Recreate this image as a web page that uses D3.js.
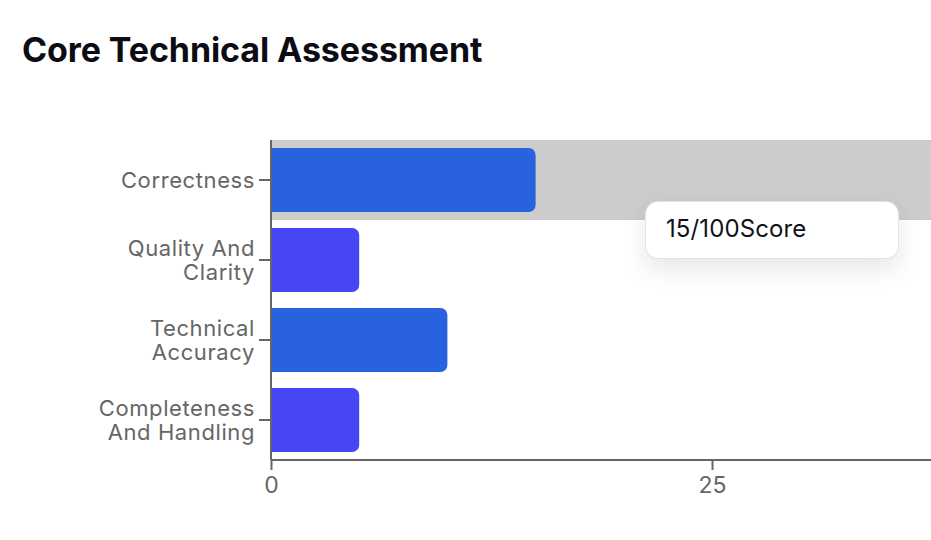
<!DOCTYPE html>
<html><head><meta charset="utf-8">
<script src="https://cdn.jsdelivr.net/npm/d3@7"></script>
<style>
html,body{margin:0;padding:0;background:#fff;overflow:hidden;width:931px;height:540px;}
#tip{position:absolute;left:645px;top:201px;width:254px;height:58px;background:#fff;border:1.5px solid #e3e3e6;border-radius:13px;box-shadow:0 10px 24px rgba(0,0,0,0.10);font-family:Inter,"Noto Sans",sans-serif;font-size:24px;line-height:29px;color:#111218;box-sizing:border-box;padding:12px 0 0 20px;letter-spacing:0.1px;}
</style></head>
<body>
<svg id="c" width="931" height="540" style="position:absolute;left:0;top:0"></svg>
<div id="tip"></div>
<script>
const categories = ["Correctness","Quality And Clarity","Technical Accuracy","Completeness And Handling"];
const labelLines = [["Correctness"],["Quality And","Clarity"],["Technical","Accuracy"],["Completeness","And Handling"]];
const scores = [15,5,10,5];
const maxScore = 100;
const xTicks = [0,25,50,75,100];
const barColors = ["#2962df","#4845f5","#2962df","#4845f5"];
const title = "Core Technical Assessment";
const highlighted = 0;

const W = 931;
const svg = d3.select("#c");
const mLeft = 271, mTop = 140, mBottom = 460;
const x = d3.scaleLinear().domain([0,maxScore]).range([mLeft, mLeft + 1764]);
const y = d3.scaleBand().domain(categories).range([mTop,mBottom]).paddingInner(0.2).paddingOuter(0.1);

svg.append("text").attr("x",22).attr("y",62).text(title)
  .attr("font-family","Inter, 'Noto Sans', sans-serif").attr("font-weight",700)
  .attr("font-size",34).attr("fill","#0b0c14").attr("letter-spacing","-0.1");

// highlight band
const step = y.step();
svg.append("rect").attr("x",mLeft).attr("width",x(maxScore)-mLeft)
  .attr("y", y(categories[highlighted]) - step*0.1).attr("height", step)
  .attr("fill","#cccccc");

function barPath(x0,y0,w,h,r){
  r=Math.min(r,w,h/2);
  return `M${x0},${y0}H${x0+w-r}A${r},${r} 0 0 1 ${x0+w},${y0+r}V${y0+h-r}A${r},${r} 0 0 1 ${x0+w-r},${y0+h}H${x0}Z`;
}
svg.selectAll("path.bar").data(categories).enter().append("path").attr("class","bar")
  .attr("d",(d,i)=>barPath(x(0), y(d), x(scores[i])-x(0), y.bandwidth(), 7))
  .attr("fill",(d,i)=>barColors[i]);

// y axis
const yAxis = svg.append("g").attr("transform",`translate(${mLeft},0)`)
  .call(d3.axisLeft(y).tickSize(12).tickSizeOuter(0).tickFormat(""));
yAxis.select(".domain").attr("stroke","#666").attr("stroke-width",2).attr("d",`M0,${mTop}V${mBottom}`);
yAxis.selectAll(".tick line").attr("stroke","#666").attr("stroke-width",2);
yAxis.selectAll(".tick").each(function(d,i){
  const lines = labelLines[i];
  const t = d3.select(this).append("text").attr("x",-16).attr("text-anchor","end")
    .attr("font-family","Inter, 'Noto Sans', sans-serif").attr("font-size",22)
    .attr("letter-spacing","0.6").attr("fill","#666");
  const n = lines.length;
  lines.forEach((l,k)=>{
    t.append("tspan").attr("x",-16).attr("y",(k-(n-1)/2)*24).attr("dy","0.36em").text(l);
  });
});

// x axis (only ticks that fall inside the visible page)
const visibleTicks = xTicks.filter(v => x(v) <= W - 10);
const xAxis = svg.append("g").attr("transform",`translate(0,${mBottom})`)
  .call(d3.axisBottom(x).tickValues(visibleTicks).tickSize(10).tickSizeOuter(0));
xAxis.select(".domain").attr("stroke","#666").attr("stroke-width",2).attr("d",`M${mLeft},0H${W}`);
xAxis.selectAll(".tick line").attr("stroke","#666").attr("stroke-width",2);
xAxis.selectAll(".tick text").attr("font-family","Inter, 'Noto Sans', sans-serif")
  .attr("font-size",23).attr("fill","#666").attr("y",33).attr("dy",0);

d3.select("#tip").text(scores[highlighted] + "/" + maxScore + "Score");
</script>
</body></html>
